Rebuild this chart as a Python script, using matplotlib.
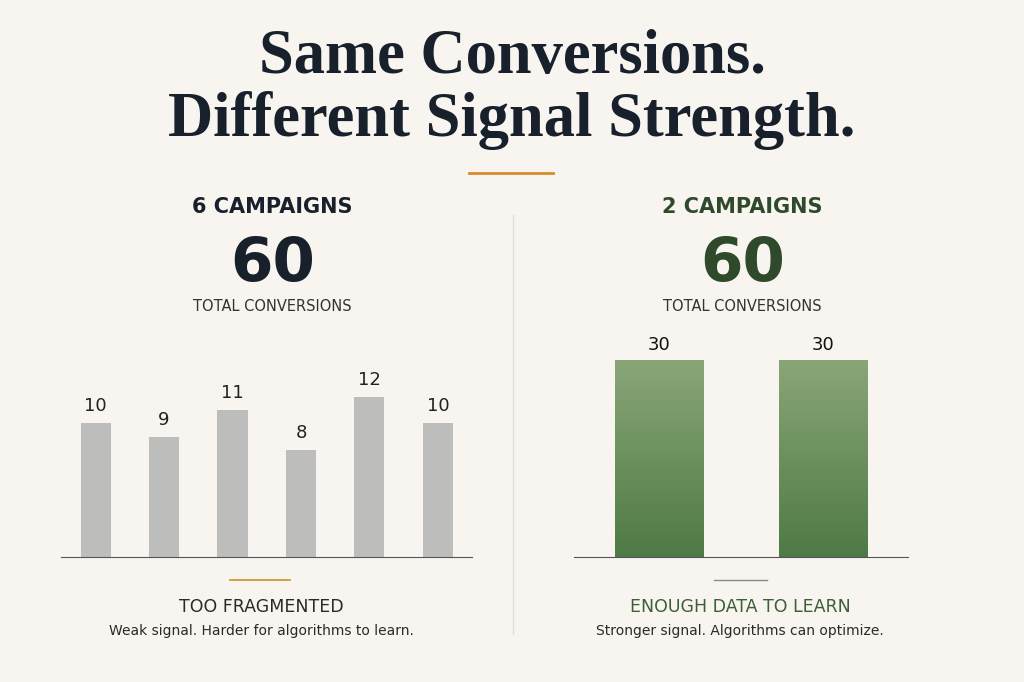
import numpy as np
import matplotlib.pyplot as plt
from matplotlib.colors import LinearSegmentedColormap

left_values = [10, 9, 11, 8, 12, 10]
right_values = [30, 30]

bg = '#f8f5f0'
dark = '#17202b'
green_dark = '#2f4a2a'
orange = '#d98a2b'

fig = plt.figure(figsize=(10.24, 6.82), dpi=100, facecolor=bg)

# title
fig.text(0.5, 0.915, 'Same Conversions.', ha='center', va='center', fontsize=45,
         family='Liberation Serif', weight='bold', color=dark)
fig.text(0.5, 0.823, 'Different Signal Strength.', ha='center', va='center', fontsize=45,
         family='Liberation Serif', weight='bold', color=dark)
fig.add_artist(plt.Line2D([0.458, 0.54], [0.746, 0.746], color=orange, lw=2))

# divider
fig.add_artist(plt.Line2D([0.501, 0.501], [0.07, 0.685], color='#e2ddd5', lw=1))

# headers
for cx, n, col in [(0.266, '6 CAMPAIGNS', dark), (0.725, '2 CAMPAIGNS', green_dark)]:
    fig.text(cx, 0.696, n, ha='center', va='center', fontsize=15, weight='bold', color=col)
    fig.text(cx, 0.612, '60', ha='center', va='center', fontsize=44, weight='bold', color=col)
    fig.text(cx, 0.550, 'TOTAL CONVERSIONS', ha='center', va='center', fontsize=10.5,
             color='#333333')

# left bars
axl = fig.add_axes([0.06, 0.183, 0.401, 0.30])
axl.set_facecolor(bg)
xl = np.arange(len(left_values))
axl.bar(xl, left_values, width=0.44, color='#bdbdbb')
for x, v in zip(xl, left_values):
    axl.text(x, v + 0.6, str(v), ha='center', va='bottom', fontsize=13, color='#222222')
axl.set_xlim(-0.5, 5.5)
axl.set_ylim(0, 15.3)
for s in ['top', 'right', 'left']:
    axl.spines[s].set_visible(False)
axl.spines['bottom'].set_color('#555555')
axl.set_xticks([])
axl.set_yticks([])

# right bars with gradient
axr = fig.add_axes([0.561, 0.183, 0.326, 0.30])
axr.set_facecolor(bg)
xr = np.arange(len(right_values))
rbars = axr.bar(xr, right_values, width=0.54, color='none')
cmap = LinearSegmentedColormap.from_list('g', ['#4e7a45', '#8aa678'])
grad = np.linspace(0, 1, 256).reshape(-1, 1)
for b in rbars:
    x0, w, h = b.get_x(), b.get_width(), b.get_height()
    im = axr.imshow(grad, cmap=cmap, extent=[x0, x0 + w, 0, h], origin='lower',
                    aspect='auto', zorder=2)
    im.set_clip_path(b)
for x, v in zip(xr, right_values):
    axr.text(x, v + 0.9, str(v), ha='center', va='bottom', fontsize=13, color='#111111')
axr.set_xlim(-0.52, 1.52)
axr.set_ylim(0, 31.1)
for s in ['top', 'right', 'left']:
    axr.spines[s].set_visible(False)
axr.spines['bottom'].set_color('#555555')
axr.set_xticks([])
axr.set_yticks([])

# footers
fig.add_artist(plt.Line2D([0.225, 0.283], [0.149, 0.149], color='#c99a3a', lw=1.3))
fig.add_artist(plt.Line2D([0.697, 0.749], [0.149, 0.149], color='#8a8a8a', lw=1))
fig.text(0.255, 0.110, 'TOO FRAGMENTED', ha='center', va='center', fontsize=12.5,
         color='#2a2a2a')
fig.text(0.255, 0.075, 'Weak signal. Harder for algorithms to learn.', ha='center',
         va='center', fontsize=10, color='#2a2a2a')
fig.text(0.723, 0.110, 'ENOUGH DATA TO LEARN', ha='center', va='center', fontsize=12.5,
         color='#3d5e36')
fig.text(0.723, 0.075, 'Stronger signal. Algorithms can optimize.', ha='center',
         va='center', fontsize=10, color='#2a2a2a')

fig.savefig('out.png', dpi=100, facecolor=bg)
